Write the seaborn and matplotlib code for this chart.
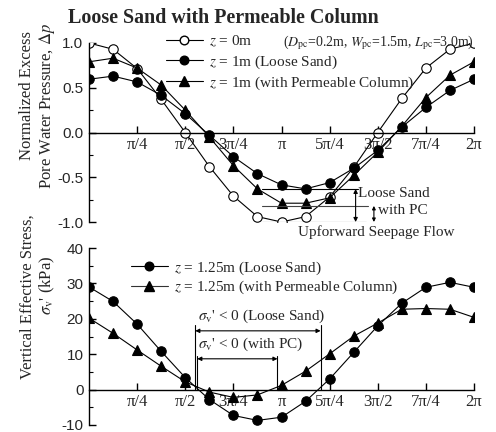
import numpy as np
import pandas as pd
import matplotlib
matplotlib.use("Agg")
import matplotlib.pyplot as plt
from matplotlib.ticker import MultipleLocator, FixedLocator, FixedFormatter
from matplotlib.lines import Line2D
import seaborn as sns

# Phase angle (multiples of pi/8 over one cycle)
phase_steps = list(range(17))

# Normalized excess pore water pressure
dp_z0 = [1.00, 0.93, 0.715, 0.37, 0.00, -0.38, -0.71, -0.94, -1.00,
         -0.94, -0.72, -0.39, 0.00, 0.38, 0.72, 0.93, 1.00]
dp_z1_loose = [0.595, 0.63, 0.565, 0.415, 0.21, -0.03, -0.27, -0.46, -0.585,
               -0.63, -0.56, -0.40, -0.20, 0.06, 0.28, 0.47, 0.595]
dp_z1_pc = [0.79, 0.83, 0.72, 0.53, 0.25, -0.05, -0.37, -0.63, -0.79,
            -0.79, -0.73, -0.48, -0.22, 0.07, 0.39, 0.64, 0.79]

# Vertical effective stress at z = 1.25 m (kPa)
sv_loose = [29.0, 24.9, 18.5, 10.8, 3.4, -2.8, -7.3, -8.7, -7.8,
            -3.3, 3.0, 10.5, 18.0, 24.4, 28.9, 30.3, 28.9]
sv_pc = [20.2, 15.9, 11.2, 6.6, 2.2, -0.7, -2.2, -1.5, 1.2,
         5.2, 10.1, 15.1, 18.8, 22.7, 22.9, 22.7, 20.4]

tick_labels = ["π/4", "π/2", "3π/4", "π", "5π/4", "3π/2", "7π/4", "2π"]

phase = np.array(phase_steps) * np.pi / 8

sns.set_theme(style="ticks")
plt.rcParams["font.family"] = ["Liberation Serif", "DejaVu Serif"]
plt.rcParams["mathtext.fontset"] = "stix"

SERIF = "Liberation Serif"
SANS = "Liberation Sans"
FS = 11

fig = plt.figure(figsize=(4.96, 4.32), dpi=100)
W, H = 496, 432


def axes_px(left, top, right, bottom):
    return fig.add_axes([left / W, 1 - bottom / H, (right - left) / W, (bottom - top) / H])


ax1 = axes_px(89, 43, 474, 222)
ax2 = axes_px(89, 248, 474, 425)

line_kw = dict(color="black", linewidth=0.8, markersize=6.8, markeredgewidth=0.8)


def style_axes(ax, ylim, major, minor, fmt):
    ax.set_xlim(0, 2 * np.pi)
    ax.set_ylim(*ylim)
    ax.set_facecolor("white")
    for s in ("top", "right"):
        ax.spines[s].set_visible(False)
    ax.spines["bottom"].set_position(("data", 0))
    for s in ("left", "bottom"):
        ax.spines[s].set_linewidth(1.0)
        ax.spines[s].set_color("black")
    ticks = [(i + 1) * np.pi / 4 for i in range(8)]
    ax.xaxis.set_major_locator(FixedLocator(ticks))
    ax.xaxis.set_major_formatter(FixedFormatter(tick_labels))
    ax.yaxis.set_major_locator(MultipleLocator(major))
    ax.yaxis.set_minor_locator(MultipleLocator(minor))
    ax.yaxis.set_major_formatter(plt.FuncFormatter(fmt))
    ax.tick_params(axis="x", which="major", direction="in", length=5, width=1.0,
                   pad=3, labelsize=FS + 1, color="black")
    ax.tick_params(axis="y", which="major", direction="in", length=5, width=1.0,
                   pad=4, labelsize=FS, color="black")
    ax.tick_params(axis="y", which="minor", direction="in", length=3, width=0.8,
                   color="black")
    for lab in ax.get_xticklabels():
        lab.set_fontfamily(SERIF)
    for lab in ax.get_yticklabels():
        lab.set_fontfamily(SANS)
    ax.grid(False)


# ---------- upper panel: excess pore water pressure ----------
sns.lineplot(x=phase, y=dp_z0, ax=ax1, marker="o", markerfacecolor="white",
             markeredgecolor="black", **line_kw)
sns.lineplot(x=phase, y=dp_z1_loose, ax=ax1, marker="o", markerfacecolor="black",
             markeredgecolor="black", **line_kw)
sns.lineplot(x=phase, y=dp_z1_pc, ax=ax1, marker="^", markerfacecolor="black",
             markeredgecolor="black", **{**line_kw, "markersize": 7.5})
style_axes(ax1, (-1.0, 1.0), 0.5, 0.25, lambda v, p: f"{v:.1f}")

h1 = [Line2D([], [], color="black", lw=0.8, marker="o", mfc="white", mec="black", ms=6.2),
      Line2D([], [], color="black", lw=0.8, marker="o", mfc="black", mec="black", ms=6.2),
      Line2D([], [], color="black", lw=0.8, marker="^", mfc="black", mec="black", ms=7)]
leg1 = ax1.legend(h1, ["$z$ = 0m", "$z$ = 1m (Loose Sand)", "$z$ = 1m (with Permeable Column)"],
                  loc="upper left", bbox_to_anchor=((166 - 89) / 385, 1.05), frameon=False,
                  fontsize=FS, handlelength=2.4, handletextpad=0.4, labelspacing=0.25,
                  borderpad=0, borderaxespad=0)
for t in leg1.get_texts():
    t.set_fontfamily(SERIF)

ax1.text(1.0, 1.0, r"($D_{\rm pc}$=0.2m, $W_{\rm pc}$=1.5m, $L_{\rm pc}$=3.0m)",
         transform=ax1.transAxes, ha="right", va="center", fontsize=FS - 1,
         fontfamily=SERIF)

# seepage-flow markers
x_from = 0.9 * np.pi
ann = dict(color="black", lw=0.8)
ax1.plot([x_from, 1.395 * np.pi], [-0.63, -0.63], **ann)
ax1.plot([x_from, 1.45 * np.pi], [-0.82, -0.82], color="#444444", lw=0.8)
ax1.plot([x_from, 1.44 * np.pi], [-0.995, -0.995], color="#444444", lw=0.8)
ax1.annotate("", xy=(1.385 * np.pi, -1.0), xytext=(1.385 * np.pi, -0.63),
             arrowprops=dict(arrowstyle="<|-|>", lw=0.8, color="black",
                             mutation_scale=6, shrinkA=0, shrinkB=0),
             annotation_clip=False)
ax1.annotate("", xy=(1.48 * np.pi, -1.0), xytext=(1.48 * np.pi, -0.82),
             arrowprops=dict(arrowstyle="<|-|>", lw=0.8, color="black",
                             mutation_scale=5, shrinkA=0, shrinkB=0),
             annotation_clip=False)
ax1.text(1.4 * np.pi, -0.685, "Loose Sand", fontsize=FS, fontfamily=SERIF,
         ha="left", va="center")
ax1.text(1.5 * np.pi, -0.875, "with PC", fontsize=FS, fontfamily=SERIF,
         ha="left", va="center")
ax1.text(1.49 * np.pi, -1.115, "Upforward Seepage Flow", fontsize=FS, fontfamily=SERIF,
         ha="center", va="center")

# ---------- lower panel: vertical effective stress ----------
sns.lineplot(x=phase, y=sv_loose, ax=ax2, marker="o", markerfacecolor="black",
             markeredgecolor="black", **line_kw)
sns.lineplot(x=phase, y=sv_pc, ax=ax2, marker="^", markerfacecolor="black",
             markeredgecolor="black", **{**line_kw, "markersize": 7.5})
style_axes(ax2, (-10, 40), 10, 5, lambda v, p: f"{v:.0f}")

h2 = [Line2D([], [], color="black", lw=0.8, marker="o", mfc="black", mec="black", ms=6.2),
      Line2D([], [], color="#333333", lw=0.8, marker="^", mfc="black", mec="black", ms=7)]
leg2 = ax2.legend(h2, ["$z$ = 1.25m (Loose Sand)", "$z$ = 1.25m (with Permeable Column)"],
                  loc="upper left", bbox_to_anchor=((131 - 89) / 385, 0.935), frameon=False,
                  fontsize=FS, handlelength=2.4, handletextpad=0.4, labelspacing=0.12,
                  borderpad=0, borderaxespad=0)
for t in leg2.get_texts():
    t.set_fontfamily(SERIF)

# ranges of negative effective stress
u = np.pi / 4
x_ls0, x_ls1 = (195 - 89) / 48 * u, (320 - 89) / 48 * u
x_pc0, x_pc1 = (197 - 89) / 48 * u, (277 - 89) / 48 * u
ax2.plot([x_ls0, x_ls0], [0, 18.2], **ann)
ax2.plot([x_ls1, x_ls1], [0, 18.2], **ann)
ax2.plot([x_pc0, x_pc0], [0, 9.6], **ann)
ax2.plot([x_pc1, x_pc1], [0, 9.6], **ann)
ax2.annotate("", xy=(x_ls0, 16.6), xytext=(x_ls1, 16.6),
             arrowprops=dict(arrowstyle="<|-|>", lw=0.8, color="black",
                             mutation_scale=6, shrinkA=0, shrinkB=0))
ax2.annotate("", xy=(x_pc0, 8.7), xytext=(x_pc1, 8.7),
             arrowprops=dict(arrowstyle="<|-|>", lw=0.8, color="black",
                             mutation_scale=6, shrinkA=0, shrinkB=0))
ax2.text(x_ls0 + 0.04, 20.8, r"$\sigma_{\rm v}$' < 0 (Loose Sand)", fontsize=FS,
         fontfamily=SERIF, ha="left", va="center")
ax2.text(x_ls0 + 0.04, 12.8, r"$\sigma_{\rm v}$' < 0 (with PC)", fontsize=FS,
         fontfamily=SERIF, ha="left", va="center")

# ---------- titles and axis labels ----------
fig.text(68 / W, 1 - 18 / H, "Loose Sand with Permeable Column", fontsize=14.4,
         fontweight="bold", fontfamily=SERIF, ha="left", va="center")
fig.text(27 / W, 1 - 95 / H, "Normalized Excess", rotation=90, fontsize=FS + 1,
         fontfamily=SERIF, ha="center", va="center")
fig.text(47 / W, 1 - 106 / H, r"Pore Water Pressure, $\mathit{\Delta p}$", rotation=90,
         fontsize=FS + 1, fontfamily=SERIF, ha="center", va="center")
fig.text(28 / W, 1 - 297 / H, "Vertical Effective Stress,", rotation=90, fontsize=FS + 1,
         fontfamily=SERIF, ha="center", va="center")
fig.text(47 / W, 1 - 285 / H, r"$\sigma_{\rm v}$' (kPa)", rotation=90, fontsize=FS + 1,
         fontfamily=SERIF, ha="center", va="center")

fig.savefig("out.png", dpi=100, facecolor="white")
